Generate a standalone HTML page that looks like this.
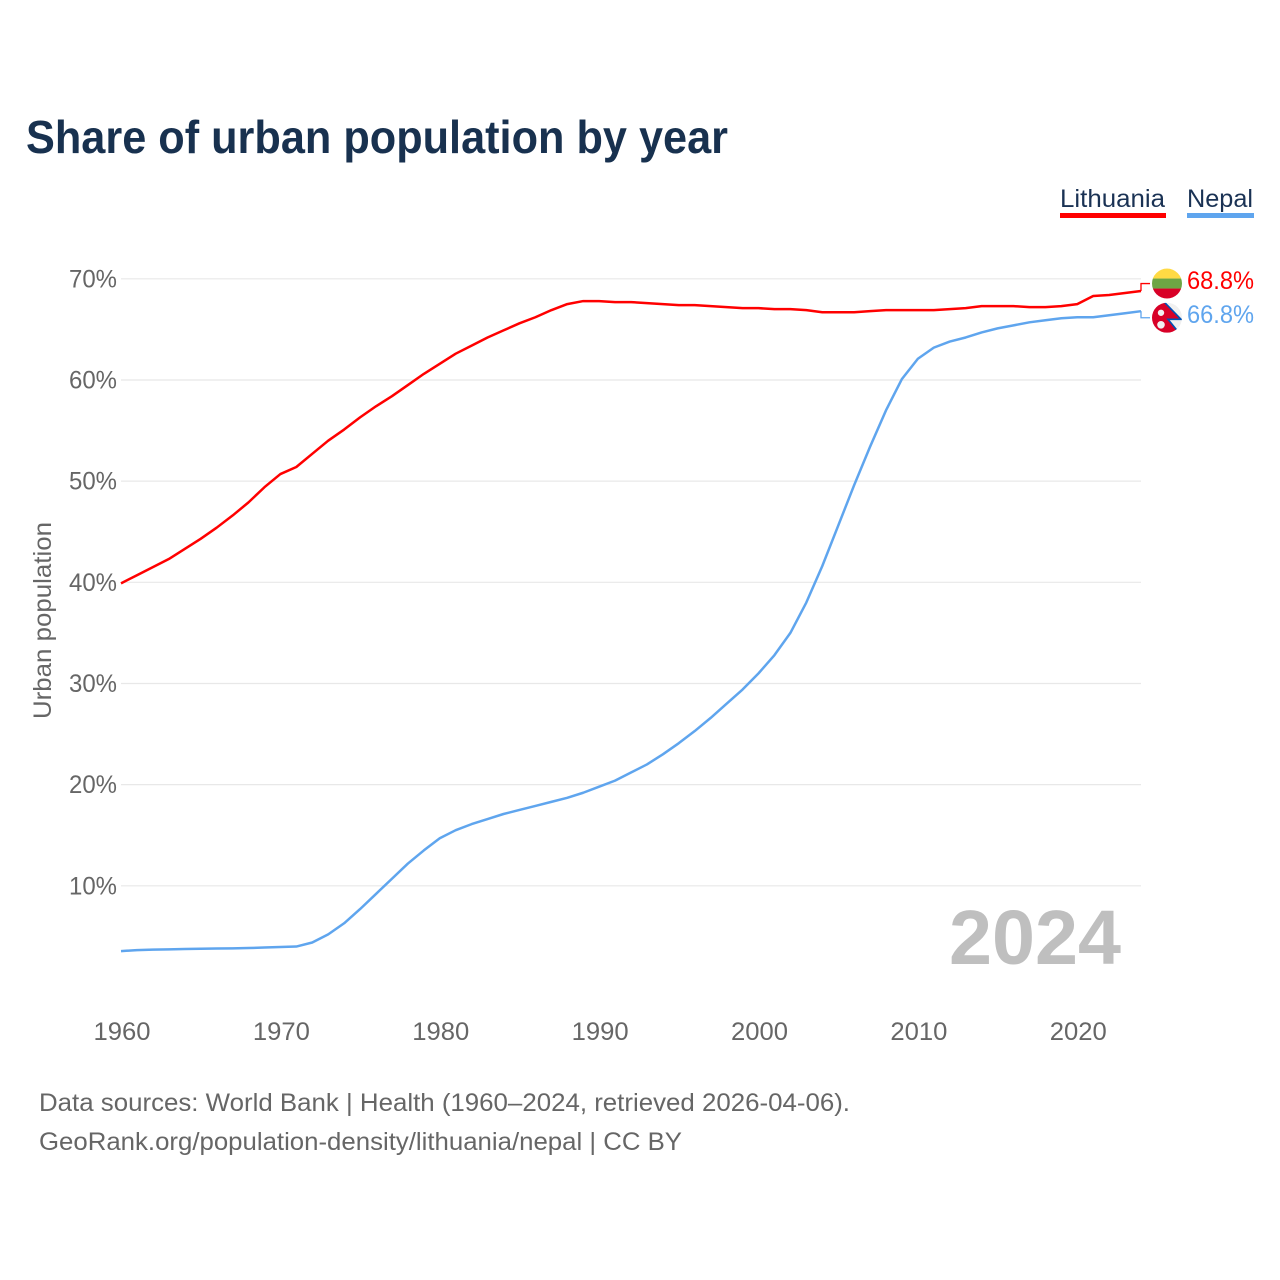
<!DOCTYPE html>
<html lang="en">
<head>
<meta charset="utf-8">
<title>Share of urban population by year</title>
<style>
html,body{margin:0;padding:0;background:#fff;width:1280px;height:1280px;overflow:hidden}
svg{display:block;font-family:"Liberation Sans",Arial,sans-serif}
</style>
</head>
<body>
<svg id="chart" xmlns="http://www.w3.org/2000/svg" width="1280" height="1280" viewBox="0 0 1280 1280">
  <defs>
    <clipPath id="flag-clip-top"><circle cx="0" cy="0" r="15"/></clipPath>
  </defs>
  <text x="26" y="153" font-size="46" font-weight="700" fill="#18314f" textLength="702" lengthAdjust="spacingAndGlyphs">Share of urban population by year</text>
  <g>
    <g>
      <text x="1060" y="207" font-size="25" fill="#1a3254" textLength="105" lengthAdjust="spacingAndGlyphs">Lithuania</text>
      <rect x="1060" y="213" width="106" height="5" fill="#ff0000"/>
    </g>
    <g>
      <text x="1187" y="207" font-size="25" fill="#1a3254" textLength="66" lengthAdjust="spacingAndGlyphs">Nepal</text>
      <rect x="1187" y="213" width="67" height="5" fill="#5fa5ee"/>
    </g>
  </g>
  <g id="grid"></g>
  <g id="y-axis"></g>
  <g id="x-axis"></g>
  <text transform="translate(51,620.5) rotate(-90)" text-anchor="middle" font-size="25" fill="#666666" textLength="197" lengthAdjust="spacingAndGlyphs">Urban population</text>
  <text x="949" y="964" font-size="77" font-weight="700" fill="#bfbfbf" textLength="172" lengthAdjust="spacingAndGlyphs">2024</text>
  <g id="series"></g>
  <g id="end-labels"></g>
  <text x="39" y="1111" font-size="25" fill="#666666" textLength="811" lengthAdjust="spacingAndGlyphs">Data sources: World Bank | Health (1960–2024, retrieved 2026-04-06).</text>
  <text x="39" y="1150" font-size="25" fill="#666666" textLength="643" lengthAdjust="spacingAndGlyphs">GeoRank.org/population-density/lithuania/nepal | CC BY</text>
</svg>
<script>
const firstYear = 1960;
const lithuaniaValues = [39.9,40.7,41.5,42.3,43.3,44.3,45.4,46.6,47.9,49.4,50.7,51.4,52.7,54.0,55.1,56.3,57.4,58.4,59.5,60.6,61.6,62.6,63.4,64.2,64.9,65.6,66.2,66.9,67.5,67.8,67.8,67.7,67.7,67.6,67.5,67.4,67.4,67.3,67.2,67.1,67.1,67.0,67.0,66.9,66.7,66.7,66.7,66.8,66.9,66.9,66.9,66.9,67.0,67.1,67.3,67.3,67.3,67.2,67.2,67.3,67.5,68.3,68.4,68.6,68.8];
const nepalValues = [3.55,3.65,3.7,3.72,3.75,3.78,3.8,3.82,3.85,3.9,3.95,4.0,4.4,5.2,6.3,7.7,9.2,10.7,12.2,13.5,14.7,15.5,16.1,16.6,17.1,17.5,17.9,18.3,18.7,19.2,19.8,20.4,21.2,22.0,23.0,24.1,25.3,26.6,28.0,29.4,31.0,32.8,35.0,38.0,41.6,45.6,49.6,53.4,57.0,60.1,62.1,63.2,63.8,64.2,64.7,65.1,65.4,65.7,65.9,66.1,66.2,66.2,66.4,66.6,66.8];
const yTickValues = [10,20,30,40,50,60,70];
const xTickValues = [1960,1970,1980,1990,2000,2010,2020];

const SVG_NS = 'http://www.w3.org/2000/svg';
const xLeft = 121, xRight = 1141;
const lastYear = firstYear + lithuaniaValues.length - 1;
function xScale(year){ return xLeft + (year - firstYear) * (xRight - xLeft) / (lastYear - firstYear); }
function yScale(v){ return 987 - v * 10.117; }
function make(tag, attrs, parent, text){
  const el = document.createElementNS(SVG_NS, tag);
  for (const k in attrs) el.setAttribute(k, attrs[k]);
  if (text !== undefined) el.textContent = text;
  parent.appendChild(el);
  return el;
}
const grid = document.getElementById('grid');
const yAxis = document.getElementById('y-axis');
const xAxis = document.getElementById('x-axis');
const seriesGroup = document.getElementById('series');
const endLabels = document.getElementById('end-labels');

yTickValues.forEach(function(v){
  const line = make('line', {x1:xLeft, x2:xRight, y1:yScale(v), y2:yScale(v), stroke:'#e8e8e8', 'stroke-width':1.2}, grid);
  
  
  const label = make('text', {x:117, y:yScale(v)+8.5, 'text-anchor':'end', 'font-size':25, fill:'#666666', textLength:48, lengthAdjust:'spacingAndGlyphs'}, yAxis, v + '%');
  
  
});

xTickValues.forEach(function(yr){
  const label = make('text', {x:xScale(yr)+1, y:1040, 'text-anchor':'middle', 'font-size':25, fill:'#666666', textLength:57, lengthAdjust:'spacingAndGlyphs'}, xAxis, String(yr));
  
  
});

function linePath(values){
  return values.map(function(v, i){
    return (i ? 'L' : 'M') + xScale(firstYear + i).toFixed(2) + ' ' + yScale(v).toFixed(2);
  }).join(' ');
}
const redLine = make('path', {d:linePath(lithuaniaValues), fill:'none', stroke:'#ff0000', 'stroke-width':2.5, 'stroke-linejoin':'round'}, seriesGroup);


const blueLine = make('path', {d:linePath(nepalValues), fill:'none', stroke:'#5fa5ee', 'stroke-width':2.5, 'stroke-linejoin':'round'}, seriesGroup);



/* end labels */
const redEnd = lithuaniaValues[lithuaniaValues.length - 1];
const blueEnd = nepalValues[nepalValues.length - 1];
const redFlagY = yScale(redEnd) - 7.4;
const blueFlagY = yScale(blueEnd) + 6.6;

const redConn = make('path', {d:'M'+xRight+' '+yScale(redEnd)+' V'+redFlagY+' H1150', fill:'none', stroke:'#ff0000', 'stroke-width':1.3}, endLabels);


const blueConn = make('path', {d:'M'+xRight+' '+yScale(blueEnd)+' V'+blueFlagY+' H1150', fill:'none', stroke:'#5fa5ee', 'stroke-width':1.3}, endLabels);



const flagLt = make('g', {transform:'translate(1167,'+redFlagY+')', 'clip-path':'url(#flag-clip-top)'}, endLabels);


make('rect', {x:-15, y:-15, width:30, height:10, fill:'#ffda44'}, flagLt);
make('rect', {x:-15, y:-5, width:30, height:10, fill:'#6da544'}, flagLt);
make('rect', {x:-15, y:5, width:30, height:10, fill:'#d80027'}, flagLt);

const flagNp = make('g', {transform:'translate(1167,'+blueFlagY+')', 'clip-path':'url(#flag-clip-top)'}, endLabels);


make('rect', {x:-15, y:-15, width:30, height:30, fill:'#f0f0f0'}, flagNp);
make('path', {d:'M-15 -16 H-3 L14 1.5 H1 L12 15 H-15 Z', fill:'#d80027'}, flagNp);
make('path', {d:'M-3 -16 L14 1.5 H1 L12 15', fill:'none', stroke:'#0052b4', 'stroke-width':1.6}, flagNp);
make('circle', {cx:-6, cy:-5, r:3.2, fill:'#f0f0f0'}, flagNp);
make('circle', {cx:-6, cy:7, r:3.8, fill:'#f0f0f0'}, flagNp);

const redLabel = make('text', {x:1187, y:redFlagY+5.6, 'font-size':25, fill:'#ff0000', textLength:67, lengthAdjust:'spacingAndGlyphs'}, endLabels, redEnd.toFixed(1) + '%');


const blueLabel = make('text', {x:1187, y:blueFlagY+5.4, 'font-size':25, fill:'#5fa5ee', textLength:67, lengthAdjust:'spacingAndGlyphs'}, endLabels, blueEnd.toFixed(1) + '%');


</script>
</body>
</html>
